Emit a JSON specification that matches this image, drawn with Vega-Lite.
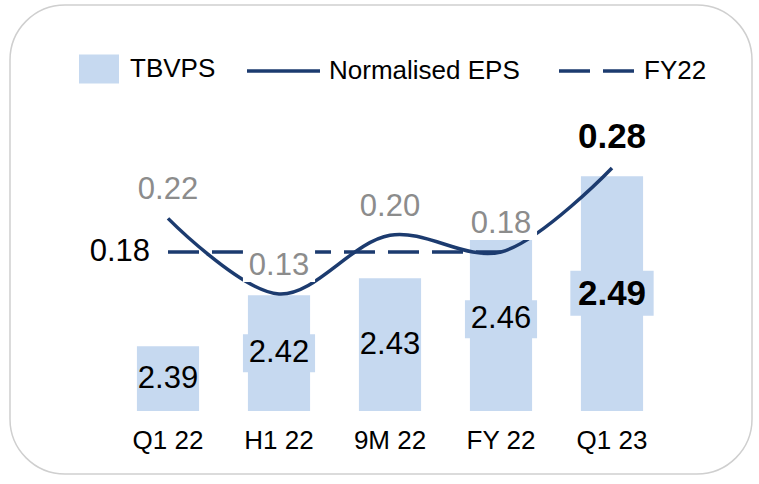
{
  "$schema": "https://vega.github.io/schema/vega-lite/v6.json",
  "width": 742,
  "height": 469,
  "autosize": {"type": "none"},
  "padding": {"left": 10, "top": 5, "right": 7, "bottom": 10},
  "background": "white",
  "config": {
    "view": {"stroke": "#cfcfcf", "strokeWidth": 1.5, "cornerRadius": 55},
    "font": "Liberation Sans",
    "legend": {
      "padding": 0,
      "labelFont": "Liberation Sans",
      "labelFontSize": 26,
      "labelColor": "black",
      "labelLimit": 0,
      "symbolStrokeWidth": 3.5
    }
  },
  "data": {
    "values": [
      {"period": "Q1 22", "tbvps": 2.39, "eps": 0.22, "fy22": 0.18},
      {"period": "H1 22", "tbvps": 2.42, "eps": 0.13, "fy22": 0.18},
      {"period": "9M 22", "tbvps": 2.43, "eps": 0.20, "fy22": 0.18},
      {"period": "FY 22", "tbvps": 2.46, "eps": 0.18, "fy22": 0.18},
      {"period": "Q1 23", "tbvps": 2.49, "eps": 0.28, "fy22": null}
    ]
  },
  "encoding": {
    "x": {
      "field": "period",
      "type": "nominal",
      "sort": null,
      "scale": {"range": [102.5, 657.5], "paddingInner": 0.44, "paddingOuter": 0.22},
      "axis": {
        "title": null,
        "domain": false,
        "ticks": false,
        "labelAngle": 0,
        "labelFont": "Liberation Sans",
        "labelFontSize": 26,
        "labelColor": "black",
        "labelBaseline": "middle",
        "labelPadding": 0,
        "offset": -34
      }
    }
  },
  "layer": [
    {
      "mark": {"type": "bar"},
      "encoding": {
        "y": {"field": "tbvps", "type": "quantitative", "scale": {"domain": [2.3149, 2.5908]}, "axis": null},
        "y2": {"datum": 2.352},
        "color": {
          "datum": "TBVPS",
          "type": "nominal",
          "scale": {"range": ["#c6d9f0"]},
          "legend": {
            "title": null,
            "orient": "none",
            "legendX": 69,
            "legendY": 44,
            "symbolType": "M-1,-0.725H1V0.725H-1Z",
            "symbolSize": 1600,
            "symbolStrokeWidth": 0,
            "labelOffset": 11
          }
        }
      }
    },
    {
      "transform": [{"filter": "datum.period !== 'Q1 23' && datum.period !== 'Q1 22' && datum.period !== '9M 22'"}],
      "mark": {"type": "bar", "color": "#c6d9f0", "width": {"band": 1.16}, "yOffset": -19, "y2Offset": 19},
      "encoding": {
        "y": {"field": "tbvps", "type": "quantitative", "scale": {"domain": [2.2779, 2.8296]}, "axis": null},
        "y2": {"field": "tbvps"}
      }
    },
    {
      "transform": [{"filter": "datum.period === 'Q1 23'"}],
      "mark": {"type": "bar", "color": "#c6d9f0", "width": {"band": 1.34}, "yOffset": -23, "y2Offset": 22},
      "encoding": {
        "y": {"field": "tbvps", "type": "quantitative", "scale": {"domain": [2.2779, 2.8296]}, "axis": null},
        "y2": {"field": "tbvps"}
      }
    },
    {
      "transform": [{"filter": "datum.period !== 'Q1 23'"}],
      "mark": {"type": "text", "fontSize": 31, "baseline": "middle", "color": "black"},
      "encoding": {
        "y": {"field": "tbvps", "type": "quantitative", "scale": {"domain": [2.2779, 2.8296]}, "axis": null},
        "text": {"field": "tbvps", "type": "quantitative", "format": ".2f"}
      }
    },
    {
      "transform": [{"filter": "datum.period === 'Q1 23'"}],
      "mark": {"type": "text", "fontSize": 35, "fontWeight": "bold", "baseline": "middle", "color": "black"},
      "encoding": {
        "y": {"field": "tbvps", "type": "quantitative", "scale": {"domain": [2.2779, 2.8296]}, "axis": null},
        "text": {"field": "tbvps", "type": "quantitative", "format": ".2f"}
      }
    },
    {
      "transform": [{"filter": "datum.fy22 != null"}],
      "mark": {"type": "line", "strokeWidth": 3.5, "strokeDash": [31, 13]},
      "encoding": {
        "y": {"field": "fy22", "type": "quantitative", "scale": {"domain": [-0.0843, 0.474]}, "axis": null},
        "color": {
          "datum": "FY22",
          "type": "nominal",
          "scale": {"range": ["#1c3b6f"]},
          "legend": {
            "title": null,
            "orient": "none",
            "legendX": 547,
            "legendY": 26.5,
            "symbolType": "stroke",
            "symbolSize": 5625,
            "symbolDash": [31, 13],
            "labelOffset": 8
          }
        }
      }
    },
    {
      "mark": {"type": "line", "strokeWidth": 3.5, "interpolate": "catmull-rom"},
      "encoding": {
        "y": {"field": "eps", "type": "quantitative", "scale": {"domain": [-0.0843, 0.474]}, "axis": null},
        "color": {
          "datum": "Normalised EPS",
          "type": "nominal",
          "scale": {"range": ["#1c3b6f"]},
          "legend": {
            "title": null,
            "orient": "none",
            "legendX": 235,
            "legendY": 27.5,
            "symbolType": "stroke",
            "symbolSize": 5329,
            "labelOffset": 7
          }
        }
      }
    },
    {
      "transform": [{"filter": "datum.period !== 'Q1 23'"}],
      "mark": {"type": "bar", "color": "white", "width": {"band": 1.16}, "yOffset": -44, "y2Offset": -12},
      "encoding": {
        "y": {"field": "eps", "type": "quantitative", "scale": {"domain": [-0.0843, 0.474]}, "axis": null},
        "y2": {"field": "eps"}
      }
    },
    {
      "transform": [{"filter": "datum.period !== 'Q1 23'"}],
      "mark": {"type": "text", "fontSize": 31, "baseline": "middle", "dy": -28, "color": "#8c8c8c"},
      "encoding": {
        "y": {"field": "eps", "type": "quantitative", "scale": {"domain": [-0.0843, 0.474]}, "axis": null},
        "text": {"field": "eps", "type": "quantitative", "format": ".2f"}
      }
    },
    {
      "transform": [{"filter": "datum.period === 'Q1 23'"}],
      "mark": {"type": "text", "fontSize": 35, "fontWeight": "bold", "baseline": "middle", "dy": -31, "color": "black"},
      "encoding": {
        "y": {"field": "eps", "type": "quantitative", "scale": {"domain": [-0.0843, 0.474]}, "axis": null},
        "text": {"field": "eps", "type": "quantitative", "format": ".2f"}
      }
    },
    {
      "transform": [{"filter": "datum.period === 'Q1 22'"}],
      "mark": {"type": "text", "fontSize": 31, "baseline": "middle", "align": "right", "dx": -18, "color": "black"},
      "encoding": {
        "y": {"field": "fy22", "type": "quantitative", "scale": {"domain": [-0.0843, 0.474]}, "axis": null},
        "text": {"field": "fy22", "type": "quantitative", "format": ".2f"}
      }
    }
  ],
  "resolve": {"scale": {"y": "independent", "color": "independent"}}
}
